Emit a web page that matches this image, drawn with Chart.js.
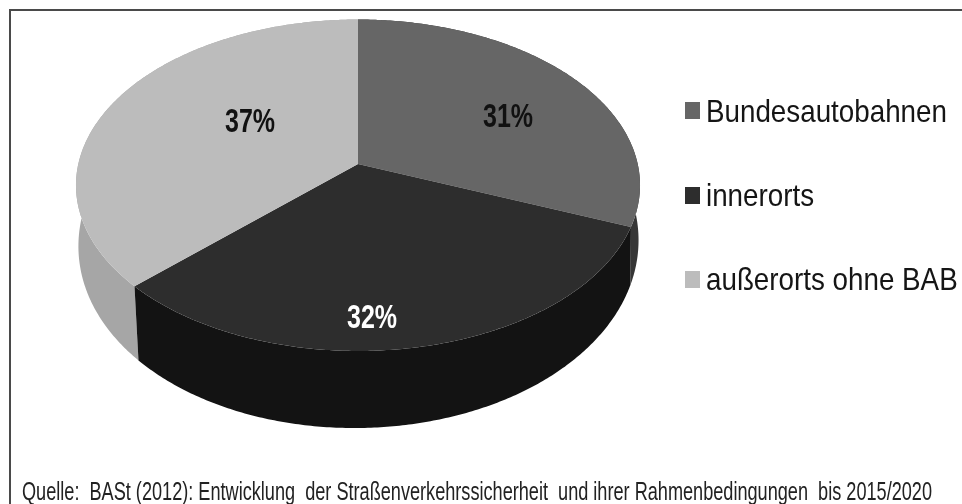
<!DOCTYPE html>
<html lang="de">
<head>
<meta charset="utf-8">
<title>Anteile nach Straßenart</title>
<script src="https://cdn.jsdelivr.net/npm/chart.js@4"></script>
<style>
  html, body { margin: 0; padding: 0; background: #fff; }
  canvas { display: block; }
</style>
</head>
<body>
<canvas id="chart" width="962" height="504"></canvas>
<script>
// Chart data
const categories = ['Bundesautobahnen', 'innerorts', 'außerorts ohne BAB'];
const shares = [31, 32, 37];
const sourceLine = 'Quelle:  BASt (2012): Entwicklung  der Straßenverkehrssicherheit  und ihrer Rahmenbedingungen  bis 2015/2020';

// Colours per slice
const topColors = ['#666666', '#2d2d2d', '#bcbcbc'];
const wallColors = ['#363636', '#131313', '#a6a6a6'];

const FONT = '"Liberation Sans", Arial, sans-serif';

// Perspective disc: maps a point of the unit circle onto the canvas.
const disc = { x: 358, y: 164, sx: 279.7, sy: 163, k: 0.1282 };

function projectTop(u, w) {
  const d = 1 - disc.k * w;
  return [disc.x + disc.sx * u / d, disc.y + disc.sy * w / d];
}

// Lower rim of the disc: thickness grows toward the viewer and to the left.
function projectBottom(u, w) {
  const [x, y] = projectTop(u, w);
  return [x - 2 * u + 3.7 * w, y + 55 + 22 * w - 5.5 * u];
}

function rim(project, from, to) {
  const steps = Math.max(8, Math.ceil(Math.abs(to - from) / 0.01));
  const pts = [];
  for (let i = 0; i <= steps; i++) {
    const a = from + (to - from) * i / steps;
    pts.push(project(Math.cos(a), Math.sin(a)));
  }
  return pts;
}

function fillPath(ctx, pts, color) {
  ctx.beginPath();
  pts.forEach((p, i) => (i ? ctx.lineTo(p[0], p[1]) : ctx.moveTo(p[0], p[1])));
  ctx.closePath();
  ctx.fillStyle = color;
  ctx.fill();
}

// Draws text with a baseline origin, narrowed horizontally by xScale.
function drawText(ctx, text, x, y, font, color, xScale, align) {
  ctx.save();
  ctx.font = font;
  ctx.fillStyle = color;
  ctx.textBaseline = 'alphabetic';
  ctx.textAlign = align || 'left';
  ctx.translate(x, y);
  ctx.scale(xScale, 1);
  ctx.fillText(text, 0, 0);
  ctx.restore();
}

// Replaces the flat arcs with a tilted disc built from the arc elements' angles.
const tiltedPie = {
  id: 'tiltedPie',
  beforeDatasetDraw(chart) {
    const ctx = chart.ctx;
    const arcs = chart.getDatasetMeta(0).data;
    const order = arcs
      .map((arc, i) => ({ i, depth: Math.sin((arc.startAngle + arc.endAngle) / 2) }))
      .sort((a, b) => a.depth - b.depth);

    order.forEach(({ i }) => {
      const { startAngle, endAngle } = arcs[i];
      const upper = rim(projectTop, startAngle, endAngle);
      const lower = rim(projectBottom, startAngle, endAngle).reverse();
      fillPath(ctx, upper.concat(lower), wallColors[i]);
    });
    arcs.forEach((arc, i) => {
      const upper = rim(projectTop, arc.startAngle, arc.endAngle);
      fillPath(ctx, [projectTop(0, 0)].concat(upper), topColors[i]);
    });
    return false;
  }
};

// Frame, value labels, legend and source line.
const annotations = {
  id: 'annotations',
  beforeDraw(chart) {
    const ctx = chart.ctx;
    ctx.save();
    ctx.fillStyle = '#fff';
    ctx.fillRect(0, 0, 962, 504);
    ctx.strokeStyle = '#4a4a4a';
    ctx.lineWidth = 2;
    ctx.beginPath();
    ctx.moveTo(10, 504);
    ctx.lineTo(10, 10);
    ctx.lineTo(962, 10);
    ctx.stroke();
    ctx.restore();
  },
  afterDraw(chart) {
    const ctx = chart.ctx;
    const valueSpots = [[508, 127, '#111'], [372, 328, '#fff'], [250, 132, '#111']];
    shares.forEach((v, i) => {
      const [x, y, color] = valueSpots[i];
      drawText(ctx, v + '%', x, y, 'bold 34px ' + FONT, color, 0.735, 'center');
    });

    const legendRows = [[102, 122], [187, 206], [271, 290]];
    categories.forEach((name, i) => {
      const [boxTop, baseline] = legendRows[i];
      ctx.fillStyle = topColors[i];
      ctx.fillRect(685, boxTop, 15, 17);
      drawText(ctx, name, 706, baseline, '32px ' + FONT, '#151515', 0.868);
    });

    ctx.save();
    ctx.font = '25px ' + FONT;
    const fit = 910 / ctx.measureText(sourceLine).width;
    ctx.restore();
    drawText(ctx, sourceLine, 22, 500, '25px ' + FONT, '#222', fit);
  }
};

new Chart(document.getElementById('chart'), {
  type: 'pie',
  data: {
    labels: categories,
    datasets: [{ data: shares, backgroundColor: topColors, borderWidth: 0 }]
  },
  options: {
    responsive: false,
    animation: false,
    plugins: { legend: { display: false }, tooltip: { enabled: false } }
  },
  plugins: [annotations, tiltedPie]
});
</script>
</body>
</html>
